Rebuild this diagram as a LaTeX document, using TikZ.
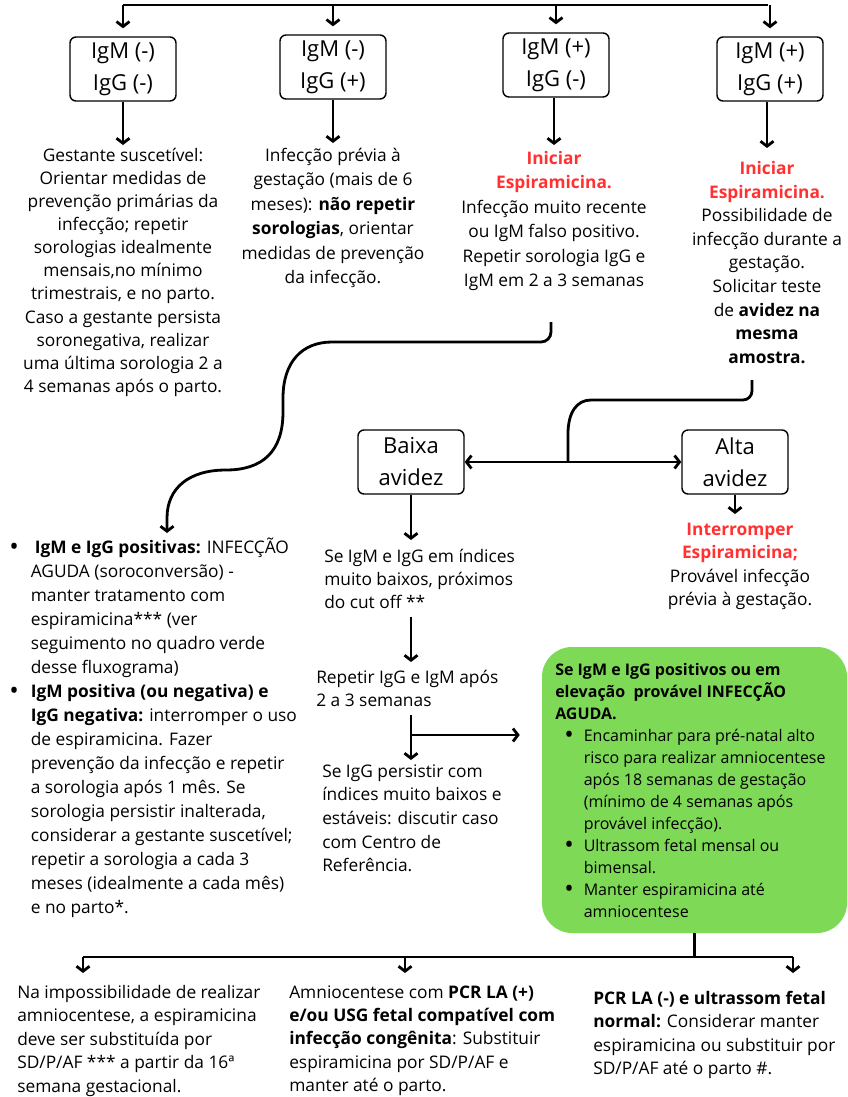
\documentclass[tikz,border=0pt]{standalone}
\usepackage{fontspec}
\setmainfont{Open Sans}
\usetikzlibrary{arrows.meta}

\newdimen\pxu \pxu=0.75pt
\definecolor{alerta}{HTML}{FF3131}
\definecolor{verde}{HTML}{7ED957}
\newcommand{\destaque}[1]{\textcolor{alerta}{\textbf{#1}}}
\newcommand{\marca}{\raisebox{-1.6pt}{\fontsize{19}{19}\selectfont\textbullet}}

\tikzset{
  resultado/.style={draw, rounded corners=6\pxu, line width=1.4\pxu, minimum width=106\pxu,
    minimum height=64\pxu, align=center, inner sep=0pt, font=\fontsize{16.5}{24}\selectfont},
  texto/.style={inner sep=0pt, font=\fontsize{13}{18}\selectfont},
  linha/.style={line width=2.8\pxu},
  fluxo/.style={line width=2.8\pxu, -{Straight Barb[length=3.75pt,width=9.75pt]}},
  quadro/.style={fill=verde, rounded corners=30\pxu, minimum width=305\pxu, minimum height=286\pxu}
}

\begin{document}
\begin{tikzpicture}[x=0.75pt, y=-0.75pt]
\useasboundingbox (0,0) rectangle (848,1097);

% Resultados da sorologia
\node[resultado] (res1) at (123,69) {IgM (-)\\IgG (-)};
\node[resultado] (res2) at (333,67) {IgM (-)\\IgG (+)};
\node[resultado] (res3) at (556,65) {IgM (+)\\IgG (-)};
\node[resultado] (res4) at (770,69) {IgM (+)\\IgG (+)};

\coordinate (topo) at (123,5);
\coordinate (topofim) at (768,5);
\draw[linha] (topo) -- (topofim);
\foreach \n in {1,...,4}
  \draw[fluxo, shorten >=8\pxu] (res\n.north |- topo) -- (res\n.north);

% Condutas de cada resultado
\node[texto, anchor=north, align=center, font=\fontsize{13}{17.3}\selectfont] (suscetivel) at (123,148)
  {Gestante suscetível:\\ Orientar medidas de\\ prevenção primárias da\\ infecção; repetir\\
   sorologias idealmente\\ mensais,no mínimo\\ trimestrais, e no parto.\\ Caso a gestante persista\\
   soronegativa, realizar\\ uma última sorologia 2 a\\ 4 semanas após o parto.};
\node[texto, anchor=north, align=center, font=\fontsize{13}{18.3}\selectfont] (previa) at (333,148)
  {Infecção prévia à\\ gestação (mais de 6\\ meses): \textbf{não repetir}\\ \textbf{sorologias}, orientar\\
   medidas de prevenção\\ da infecção.};
\node[texto, anchor=north, align=center, font=\fontsize{13}{18.3}\selectfont] (recente) at (554,151)
  {\destaque{Iniciar}\\ \destaque{Espiramicina.}\\ Infecção muito recente\\ ou IgM falso positivo.\\
   Repetir sorologia IgG e\\ IgM em 2 a 3 semanas};
\node[texto, anchor=north, align=center, font=\fontsize{13}{17.7}\selectfont] (durante) at (767,161)
  {\destaque{Iniciar}\\ \destaque{Espiramicina.}\\ Possibilidade de\\ infecção durante a\\ gestação.\\
   Solicitar teste\\ de \textbf{avidez na}\\ \textbf{mesma}\\ \textbf{amostra.}};

\draw[fluxo, shorten >=3\pxu] (res1.south) -- (res1.south |- suscetivel.north);
\draw[fluxo, shorten >=5\pxu] (res2.south) -- (res2.south |- previa.north);
\draw[fluxo, shorten >=6\pxu] (res3.south -| recente.north) -- (recente.north);
\draw[fluxo, shorten >=13\pxu] (res4.south -| durante.north) -- (durante.north);

% Avidez
\node[resultado] (baixa) at (411,462) {Baixa\\avidez};
\node[resultado] (alta) at (735,462) {Alta\\avidez};

\coordinate (saida4) at (752,380);
\coordinate (juncao) at (568,462);
\draw[linha] (saida4) [rounded corners=9\pxu] -- (752,400) -- (600,400) [sharp corners]
  .. controls (577,400) and (568,412) .. (568,434) -- (juncao);
\draw[line width=2.8\pxu, {Straight Barb[length=3.75pt,width=9.75pt]}-{Straight Barb[length=3.75pt,width=9.75pt]}]
  (baixa.east) -- (alta.west);

\node[texto, anchor=north, align=center, font=\fontsize{13}{17.5}\selectfont] (interromper) at (740,523)
  {\destaque{Interromper}\\ \destaque{Espiramicina;}\\ Provável infecção\\ prévia à gestação.};
\draw[fluxo, shorten >=9\pxu] (alta.south) -- (alta.south |- interromper.north);

% Ramo da IgM positiva com IgG negativa
\coordinate (saida3) at (551,322);
\coordinate (chegada1) at (167,533);
\draw[fluxo] (saida3) [rounded corners=10\pxu] -- (551,342) -- (342,342) [sharp corners]
  .. controls (302,342) and (283,362) .. (283,398) -- (283,412)
  .. controls (283,452) and (262,470) .. (226,470)
  .. controls (189,470) and (167,488) .. (167,518) -- (chegada1);

\node[texto, anchor=north west] (positivas) at (9,536)
  {\begin{tabular}{@{}l@{\hspace{12\pxu}}l@{}}
   \marca & \hspace{4\pxu}\textbf{IgM e IgG positivas:} INFECÇÃO\\
   & AGUDA (soroconversão) -\\
   & manter tratamento com\\
   & espiramicina*** (ver\\
   & seguimento no quadro verde\\
   & desse fluxograma)\\
   \marca & \textbf{IgM positiva (ou negativa) e}\\
   & \textbf{IgG negativa:} interromper o uso\\
   & de espiramicina. Fazer\\
   & prevenção da infecção e repetir\\
   & a sorologia após 1 mês. Se\\
   & sorologia persistir inalterada,\\
   & considerar a gestante suscetível;\\
   & repetir a sorologia a cada 3\\
   & meses (idealmente a cada mês)\\
   & e no parto*.
   \end{tabular}};

% Baixa avidez
\node[texto, anchor=north west, align=left, font=\fontsize{13}{17.4}\selectfont] (indices) at (324,549)
  {Se IgM e IgG em índices\\ muito baixos, próximos\\ do cut off **};
\node[texto, anchor=north west, align=left, font=\fontsize{13}{17.4}\selectfont] (repetir) at (316,670)
  {Repetir IgG e IgM após\\ 2 a 3 semanas};
\node[texto, anchor=north west, align=left, font=\fontsize{13}{17.8}\selectfont] (persistir) at (322,764)
  {Se IgG persistir com\\ índices muito baixos e\\ estáveis: discutir caso\\ com Centro de\\ Referência.};

\draw[fluxo, shorten >=9\pxu] (baixa.south) -- (baixa.south |- indices.north);
\draw[fluxo, shorten <=8\pxu, shorten >=8\pxu] (indices.south -| baixa.south) -- (repetir.north -| baixa.south);
\draw[fluxo, shorten <=8\pxu, shorten >=4\pxu] (repetir.south -| baixa.south) -- (persistir.north -| baixa.south);

% Infeccao aguda
\node[quadro] (aguda) at (694.5,790) {};
\coordinate (ramo) at (411,735);
\draw[fluxo, shorten >=22\pxu] (ramo) -- (ramo -| aguda.west);

\node[texto, anchor=north west, font=\fontsize{12}{16.5}\selectfont] (agudatexto) at (555,660)
  {\begin{tabular}{@{}l@{\hspace{9\pxu}}l@{\hspace{10\pxu}}l@{}}
   \multicolumn{3}{@{}l@{}}{\textbf{Se IgM e IgG positivos ou em}}\\
   \multicolumn{3}{@{}l@{}}{\textbf{elevação\ \ provável INFECÇÃO}}\\
   \multicolumn{3}{@{}l@{}}{\textbf{AGUDA.}}\\
   & \marca & Encaminhar para pré-natal alto\\
   & & risco para realizar amniocentese\\
   & & após 18 semanas de gestação\\
   & & (mínimo de 4 semanas após\\
   & & provável infecção).\\
   & \marca & Ultrassom fetal mensal ou\\
   & & bimensal.\\
   & \marca & Manter espiramicina até\\
   & & amniocentese
   \end{tabular}};

% Seguimento
\coordinate (divisao) at (aguda.south |- 0,957);
\coordinate (ramoA) at (83,957);
\coordinate (ramoB) at (405,957);
\coordinate (ramoC) at (793,957);
\draw[linha] (aguda.south) -- (divisao);
\draw[linha] (ramoA) -- (ramoC);

\node[texto, anchor=north west, align=left, font=\fontsize{13}{17.6}\selectfont] (impossibilidade) at (17,985)
  {Na impossibilidade de realizar\\ amniocentese, a espiramicina\\ deve ser substituída por\\
   SD/P/AF *** a partir da 16ª\\ semana gestacional.};
\node[texto, anchor=north west, align=left, font=\fontsize{13}{17.6}\selectfont] (congenita) at (289,985)
  {Amniocentese com \textbf{PCR LA (+)}\\ \textbf{e/ou USG fetal compatível com}\\
   \textbf{infecção congênita}: Substituir\\ espiramicina por SD/P/AF e\\ manter até o parto.};
\node[texto, anchor=north west, align=left, font=\fontsize{13}{17.5}\selectfont] (normal) at (593,991)
  {\textbf{PCR LA (-) e ultrassom fetal}\\ \textbf{normal:} Considerar manter\\
   espiramicina ou substituir por\\ SD/P/AF até o parto \#.};

\draw[fluxo, shorten >=12\pxu] (ramoA) -- (ramoA |- impossibilidade.north);
\draw[fluxo, shorten >=12\pxu] (ramoB) -- (ramoB |- congenita.north);
\draw[fluxo, shorten >=18\pxu] (ramoC) -- (ramoC |- normal.north);

\end{tikzpicture}
\end{document}
